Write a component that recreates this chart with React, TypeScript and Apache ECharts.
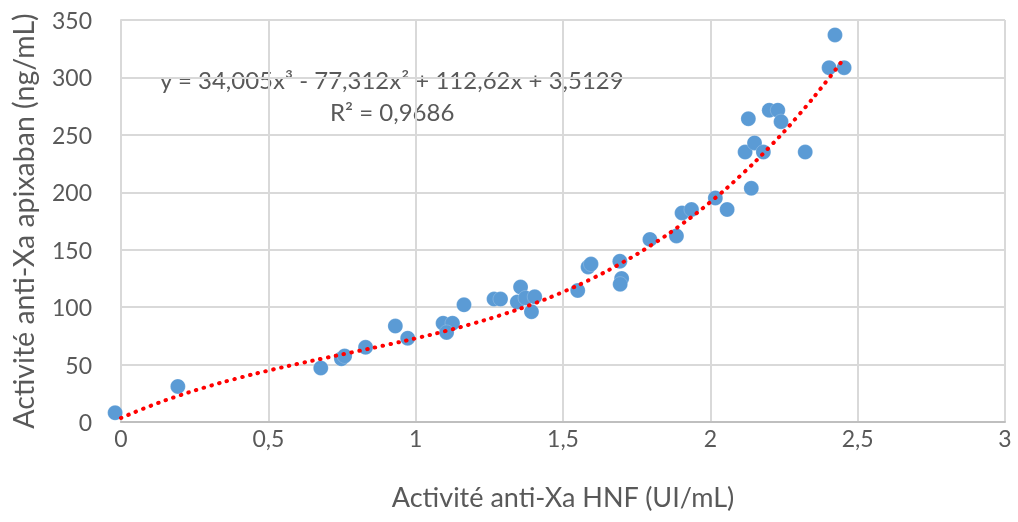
import React, { useEffect, useRef } from "react";
import * as echarts from "echarts";

const xValues = [
  -0.02, 0.193, 0.678, 0.748, 0.759, 0.83, 0.931, 0.973, 1.093, 1.125, 1.105,
  1.164, 1.266, 1.288, 1.356, 1.345, 1.373, 1.404, 1.393, 1.55, 1.585, 1.595,
  1.693, 1.699, 1.694, 1.795, 1.885, 1.904, 1.936, 2.017, 2.057, 2.139, 2.118,
  2.15, 2.18, 2.129, 2.2, 2.229, 2.24, 2.322, 2.403, 2.454, 2.423,
];
const yValues = [
  8, 31, 47, 55, 57.5, 65, 83.5, 73, 86, 86, 78, 102, 107, 107, 117.5, 104.5,
  108, 109, 96, 114.5, 135, 137.5, 140, 125, 120, 159, 162, 182, 185, 195, 185,
  203.5, 235, 243, 235, 264, 271.5, 271.5, 261.5, 235, 308.5, 308.5, 337,
];

// Trend line (cubic fit shown in the chart), values read at these x positions
const trendX = [
  0, 0.1, 0.2, 0.3, 0.4, 0.5, 0.6, 0.7, 0.8, 0.9, 1.0, 1.1, 1.2, 1.3, 1.4, 1.5,
  1.6, 1.7, 1.8, 1.9, 2.0, 2.1, 2.2, 2.3, 2.4, 2.45,
];
const trendY = [
  3.51, 14.04, 23.22, 31.26, 38.37, 44.75, 50.6, 56.13, 61.54, 67.04, 72.83,
  79.11, 86.09, 93.97, 102.96, 113.26, 125.07, 138.6, 154.06, 171.64, 191.55,
  213.99, 239.17, 267.3, 298.57, 315.45,
];

const xTicks = ["0", "0,5", "1", "1,5", "2", "2,5", "3"];

const FONT = "Lato, 'Open Sans', sans-serif";
const TXT = "#595959";

export default function App() {
  const ref = useRef<HTMLDivElement>(null);
  useEffect(() => {
    if (!ref.current) return;
    const chart = echarts.init(ref.current, undefined, { renderer: "svg" });
    chart.setOption({
      animation: false,
      textStyle: { fontFamily: FONT },
      grid: { left: 117, right: 13, top: 20, bottom: 100, containLabel: false },
      xAxis: {
        type: "value",
        min: 0,
        max: 3,
        interval: 0.5,
        name: "Activité anti-Xa HNF (UI/mL)",
        nameLocation: "middle",
        nameGap: 61,
        nameTextStyle: { color: TXT, fontSize: 27, fontFamily: FONT },
        axisLine: { lineStyle: { color: "#bfbfbf", width: 2 } },
        axisTick: { show: false },
        splitLine: { show: true, lineStyle: { color: "#d9d9d9", width: 2 } },
        axisLabel: {
          color: TXT,
          fontSize: 23,
          margin: 4,
          fontFamily: FONT,
          formatter: (v: number) => xTicks[Math.round(v * 2)] ?? "",
        },
      },
      yAxis: {
        type: "value",
        min: 0,
        max: 350,
        interval: 50,
        name: "Activité anti-Xa apixaban (ng/mL)",
        nameLocation: "middle",
        nameGap: 84,
        nameTextStyle: { color: TXT, fontSize: 28.5, fontFamily: FONT },
        axisLine: { show: true, lineStyle: { color: "#d9d9d9", width: 2 } },
        axisTick: { show: false },
        splitLine: { show: true, lineStyle: { color: "#d9d9d9", width: 2 } },
        axisLabel: { color: TXT, fontSize: 23, margin: 29, fontFamily: FONT },
      },
      graphic: [
        {
          type: "text",
          left: 160,
          top: 67,
          style: {
            text: "y = 34,005x³ - 77,312x² + 112,62x + 3,5129",
            fill: TXT,
            font: `24px ${FONT}`,
          },
        },
        {
          type: "text",
          left: 330,
          top: 99,
          style: {
            text: "R² = 0,9686",
            fill: TXT,
            font: `24px ${FONT}`,
          },
        },
      ],
      series: [
        {
          type: "scatter",
          data: xValues.map((x, i) => [x, yValues[i]]),
          symbol: "circle",
          symbolSize: 15,
          clip: false,
          itemStyle: {
            color: "#5b9bd5",
            opacity: 1,
            borderColor: "rgba(255,255,255,0.4)",
            borderWidth: 0.5,
          },
          z: 2,
        },
        {
          type: "line",
          data: trendX.map((x, i) => [x, trendY[i]]),
          smooth: true,
          showSymbol: false,
          symbol: "none",
          lineStyle: { color: "#ff0000", width: 4, type: [0.5, 7.5], cap: "round" },
          z: 3,
        },
      ],
    });
    return () => chart.dispose();
  }, []);
  return (
    <div
      ref={ref}
      style={{ position: "fixed", left: 0, top: 0, width: 1018, height: 522 }}
    />
  );
}
